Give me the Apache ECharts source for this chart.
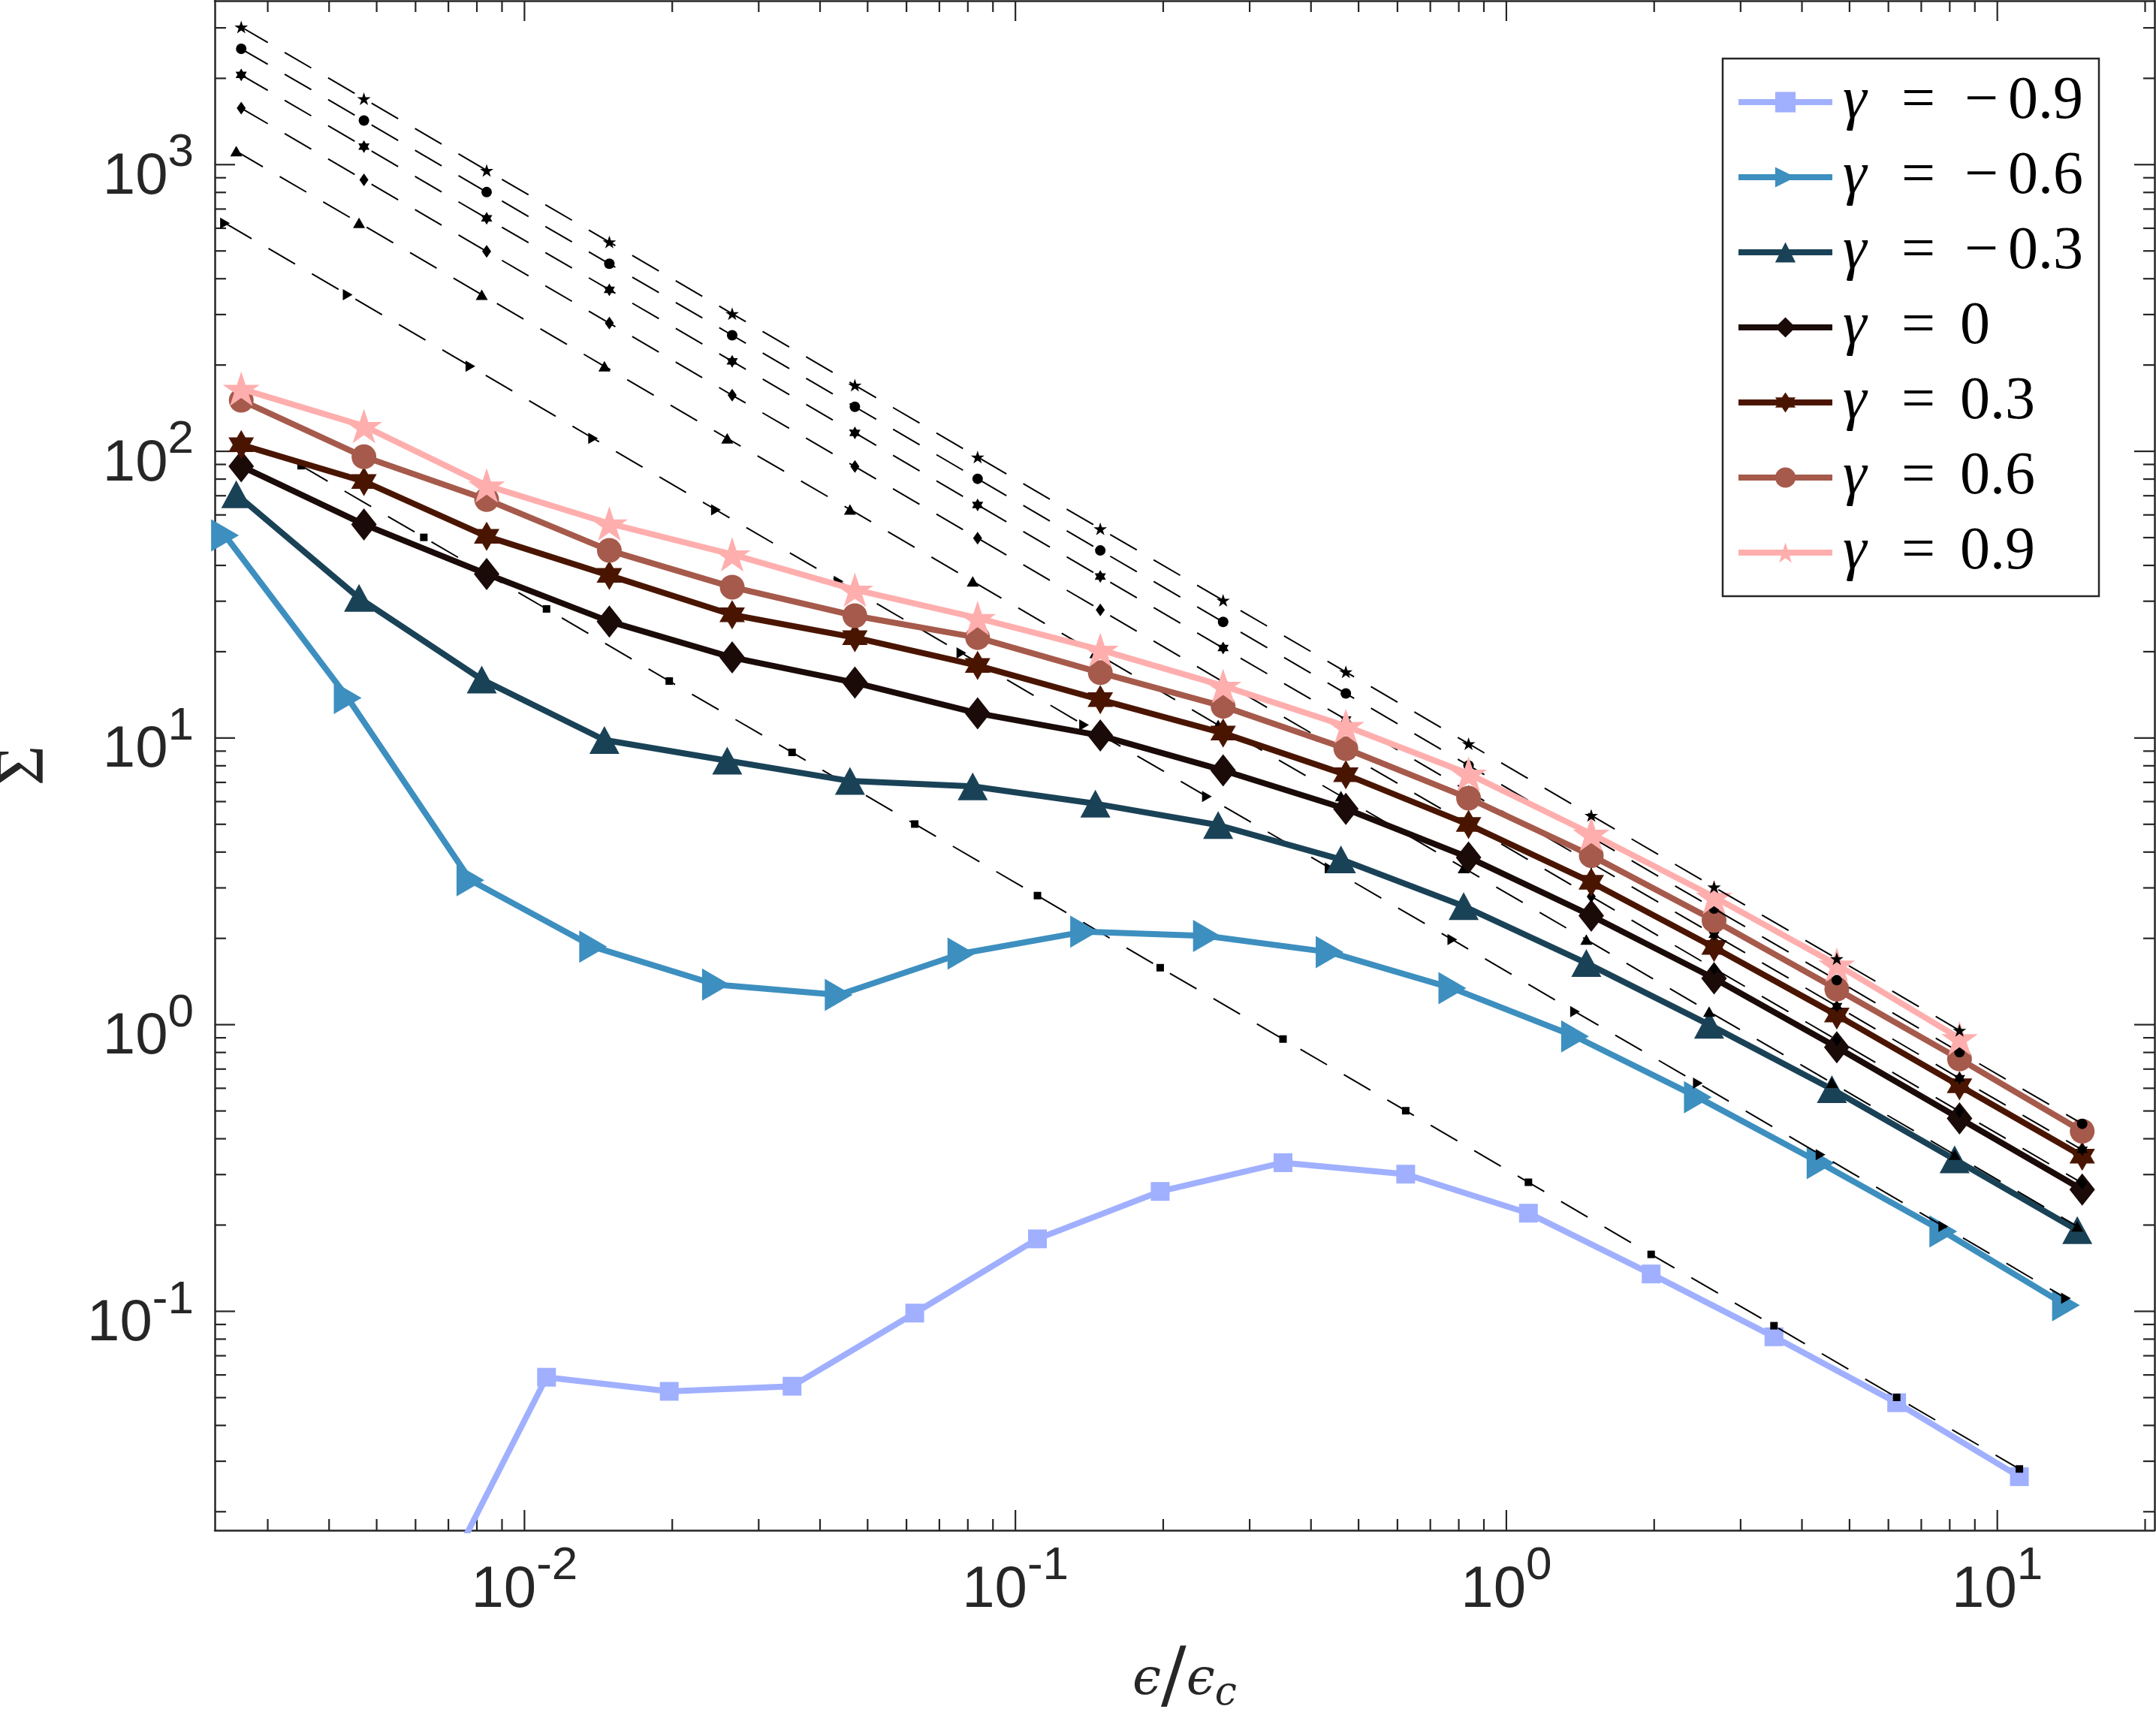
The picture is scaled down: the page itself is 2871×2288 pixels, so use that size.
<!DOCTYPE html>
<html>
<head>
<meta charset="utf-8">
<script src="https://cdn.jsdelivr.net/npm/echarts@6/dist/echarts.min.js"></script>
<style>
  html, body { margin: 0; padding: 0; background: #fff; }
  #chart { width: 2871px; height: 2288px; }
</style>
</head>
<body>
<div id="chart"></div>
<script>
// gamma values shown in the legend
const gammaLabels = ['−0.9', '−0.6', '−0.3', '0', '0.3', '0.6', '0.9'];
const colors = ['#A0B0FF', '#3D8FBF', '#1A4257', '#1A0B09', '#4A1500', '#A65A4B', '#FFAEAE'];

// x positions (eps/eps_c) of the markers, one grid per gamma
const xSq = [0.006237, 0.01109, 0.01972, 0.03508, 0.06237, 0.1109, 0.1972, 0.3508, 0.6237, 1.109, 1.972, 3.508, 6.237, 11.09];
const xSqFit = [0.003508, 0.006237, 0.01109, 0.01972, 0.03508, 0.06237, 0.1109, 0.1972, 0.3508, 0.6237, 1.109, 1.972, 3.508, 6.237, 11.09];
const xRt = [0.002455, 0.004365, 0.007762, 0.01380, 0.02455, 0.04365, 0.07762, 0.1380, 0.2455, 0.4365, 0.7762, 1.380, 2.455, 4.365, 7.762, 13.80];
const xTri = [0.002588, 0.004603, 0.008185, 0.01455, 0.02588, 0.04603, 0.08185, 0.1455, 0.2588, 0.4603, 0.8185, 1.455, 2.588, 4.603, 8.185, 14.55];
const xMain = [0.002649, 0.004710, 0.008375, 0.01489, 0.02649, 0.04710, 0.08375, 0.1489, 0.2649, 0.4710, 0.8375, 1.489, 2.649, 4.710, 8.375, 14.89];
const xStar = [0.002649, 0.004710, 0.008375, 0.01489, 0.02649, 0.04710, 0.08375, 0.1489, 0.2649, 0.4710, 0.8375, 1.489, 2.649, 4.710, 8.375];

// Sigma, measured curves
const ySq = [0.0085, 0.0589, 0.0526, 0.0548, 0.0986, 0.179, 0.262, 0.330, 0.301, 0.220, 0.135, 0.0815, 0.0480, 0.0265];
const yRt = [50.9, 13.8, 3.19, 1.87, 1.38, 1.27, 1.77, 2.11, 2.04, 1.79, 1.34, 0.910, 0.558, 0.329, 0.190, 0.105];
const yTri = [70.8, 30.8, 16.0, 9.84, 8.34, 7.08, 6.78, 5.90, 4.97, 3.77, 2.59, 1.64, 1.00, 0.596, 0.339, 0.192];
const yDia = [88.7, 55.6, 37.3, 25.5, 19.1, 15.6, 12.2, 10.2, 7.71, 5.66, 3.83, 2.40, 1.45, 0.834, 0.471, 0.266];
const yHex = [105.4, 78.5, 50.5, 36.9, 26.9, 22.4, 17.9, 13.6, 10.4, 7.45, 4.99, 3.14, 1.86, 1.08, 0.612, 0.348];
const yCir = [150.7, 95.7, 67.9, 45.1, 33.6, 26.7, 22.4, 16.9, 12.9, 9.18, 6.17, 3.89, 2.31, 1.33, 0.759, 0.425];
const yStar = [165.2, 122.5, 76.0, 56.0, 43.7, 32.9, 26.2, 20.3, 15.2, 11.0, 7.50, 4.63, 2.79, 1.62, 0.897];

// Sigma, dashed asymptotes
const fSq = [89.1, 50.1, 28.2, 15.8, 8.91, 5.01, 2.82, 1.58, 0.891, 0.501, 0.282, 0.158, 0.0891, 0.0501, 0.0282];
const fRt = [625, 352, 198, 111, 62.5, 35.2, 19.8, 11.1, 6.25, 3.52, 1.98, 1.11, 0.625, 0.352, 0.198, 0.111];
const fTri = [1114, 627, 352, 198, 111, 62.7, 35.2, 19.8, 11.1, 6.27, 3.52, 1.98, 1.11, 0.627, 0.352, 0.198];
const fDia = [1574, 885, 498, 280, 157, 88.5, 49.8, 28.0, 15.7, 8.85, 4.98, 2.80, 1.57, 0.885, 0.498, 0.280];
const fHex = [2056, 1156, 650, 366, 206, 116, 65.0, 36.6, 20.6, 11.6, 6.50, 3.66, 2.06, 1.16, 0.650, 0.366];
const fCir = [2535, 1426, 802, 451, 254, 143, 80.2, 45.1, 25.4, 14.3, 8.02, 4.51, 2.54, 1.43, 0.802, 0.451];
const fStar = [3020, 1698, 955, 537, 302, 170, 95.5, 53.7, 30.2, 17.0, 9.55, 5.37, 3.02, 1.70, 0.955];

// axes
const xMin = 0.00234, xMax = 20.9;
const yMin = 0.01723, yMax = 3730;
const xTickVals = [0.01, 0.1, 1, 10];
const xTickLabels = ['-2', '-1', '0', '1'];
const yTickVals = [0.1, 1, 10, 100, 1000];
const yTickLabels = ['-1', '0', '1', '2', '3'];
const decades = [0.001, 0.01, 0.1, 1, 10, 100, 1000];
const minorMult = [2, 3, 4, 5, 6, 7, 8, 9];

const STAR = 'path://M50,0 L61.23,34.55 L97.55,34.55 L68.17,55.9 L79.39,90.45 L50,69.1 L20.61,90.45 L31.83,55.9 L2.45,34.55 L38.77,34.55 Z';
const HEX = 'path://M50,0 L64.43,25 L93.3,25 L78.87,50 L93.3,75 L64.43,75 L50,100 L35.57,75 L6.7,75 L21.13,50 L6.7,25 L35.57,25 Z';

const xsList = [xSq, xRt, xTri, xMain, xMain, xMain, xStar];
const ysList = [ySq, yRt, yTri, yDia, yHex, yCir, yStar];
const xfList = [xSqFit, xRt, xTri, xMain, xMain, xMain, xStar];
const yfList = [fSq, fRt, fTri, fDia, fHex, fCir, fStar];
const symbols = ['rect', 'triangle', 'triangle', 'diamond', HEX, 'circle', STAR];
const rotations = [0, -90, 0, 0, 0, 0, 0];
const bigSizes = [25, [43, 37], [40, 37], [34, 43], [34, 39], 33, [49, 46]];
const smallSizes = [10, [15, 13], [16, 14], [12, 17], [15, 17], 14, [18, 17]];

const axisColor = '#262626';

function pairs(xs, ys) {
  return ys.map((y, i) => [xs[i], y]);
}

function ticksFor(majors, lo, hi) {
  const out = majors.map(v => [v, 27]);
  decades.forEach(d => minorMult.forEach(m => {
    const v = d * m;
    if (v > lo && v < hi) out.push([v, 15]);
  }));
  return out;
}

function powLabel(vals, labels) {
  return function (v) {
    const i = vals.findIndex(t => Math.abs(Math.log10(v / t)) < 1e-6);
    return i < 0 ? '' : '{b|10}{s|' + labels[i] + '}';
  };
}

// base and raised exponent, moved with padding
const labelRich = {
  b: { fontFamily: 'Liberation Sans', fontSize: 78, lineHeight: 64, padding: [34, 0, 0, 0], color: axisColor },
  s: { fontFamily: 'Liberation Sans', fontSize: 62, lineHeight: 50, padding: [0, 0, 30, 0], color: axisColor }
};

const series = [];
for (let i = 0; i < 7; i++) {
  series.push({
    name: 'γ = ' + gammaLabels[i],
    type: 'line',
    data: pairs(xsList[i], ysList[i]),
    symbol: symbols[i],
    symbolSize: bigSizes[i],
    symbolRotate: rotations[i],
    lineStyle: { color: colors[i], width: 8 },
    itemStyle: { color: colors[i] },
    z: 3 + 2 * i,
    emphasis: { disabled: true }
  });
  series.push({
    name: 'asymptote ' + gammaLabels[i],
    type: 'line',
    data: pairs(xfList[i], yfList[i]),
    symbol: symbols[i],
    symbolSize: smallSizes[i],
    symbolRotate: rotations[i],
    lineStyle: { color: '#000', width: 2, type: [41, 26] },
    itemStyle: { color: '#000' },
    z: 4 + 2 * i,
    emphasis: { disabled: true }
  });
}

// tick marks drawn inwards on all four sides, like the original
series.push({
  type: 'custom',
  name: 'xticks',
  silent: true,
  clip: false,
  z: 1,
  data: ticksFor(xTickVals, xMin, xMax).map(t => [t[0], yMin, t[1]]),
  encode: { x: 0, y: 1 },
  renderItem: function (params, api) {
    const cs = params.coordSys;
    const p = api.coord([api.value(0), yMin]);
    const len = api.value(2);
    const st = { stroke: axisColor, lineWidth: 2.2 };
    return {
      type: 'group',
      children: [
        { type: 'line', shape: { x1: p[0], y1: cs.y + cs.height, x2: p[0], y2: cs.y + cs.height - len }, style: st },
        { type: 'line', shape: { x1: p[0], y1: cs.y, x2: p[0], y2: cs.y + len }, style: st }
      ]
    };
  }
});
series.push({
  type: 'custom',
  name: 'yticks',
  silent: true,
  clip: false,
  z: 1,
  data: ticksFor(yTickVals, yMin, yMax).map(t => [xMin, t[0], t[1]]),
  encode: { x: 0, y: 1 },
  renderItem: function (params, api) {
    const cs = params.coordSys;
    const p = api.coord([xMin, api.value(1)]);
    const len = api.value(2);
    const st = { stroke: axisColor, lineWidth: 2.2 };
    return {
      type: 'group',
      children: [
        { type: 'line', shape: { x1: cs.x, y1: p[1], x2: cs.x + len, y2: p[1] }, style: st },
        { type: 'line', shape: { x1: cs.x + cs.width, y1: p[1], x2: cs.x + cs.width - len, y2: p[1] }, style: st }
      ]
    };
  }
});

const legendFont = { fontFamily: 'Liberation Serif', fontSize: 80, lineHeight: 80 };

const chart = echarts.init(document.getElementById('chart'));
chart.setOption({
  animation: false,
  backgroundColor: '#fff',
  grid: { left: 286, right: 2, top: 1, bottom: 250, outerBoundsMode: 'none', containLabel: false },
  xAxis: [{
    type: 'log', min: xMin, max: xMax, position: 'bottom',
    axisLine: { lineStyle: { color: axisColor, width: 2.5 } },
    axisTick: { show: false }, splitLine: { show: false },
    axisLabel: { formatter: powLabel(xTickVals, xTickLabels), margin: 31, rich: labelRich },
    name: '{e|ϵ}{sl|/}{e|ϵ}{c|c}', nameLocation: 'middle', nameGap: 150,
    nameTextStyle: {
      rich: {
        e: { fontFamily: 'DejaVu Serif', fontStyle: 'italic', fontSize: 68, lineHeight: 100, color: axisColor },
        sl: { fontFamily: 'DejaVu Serif', fontSize: 100, lineHeight: 100, color: axisColor },
        c: { fontFamily: 'DejaVu Serif', fontStyle: 'italic', fontSize: 52, lineHeight: 40, padding: [36, 0, 0, 0], color: axisColor }
      }
    }
  }, {
    type: 'log', min: xMin, max: xMax, position: 'top',
    axisLine: { lineStyle: { color: axisColor, width: 2.5 } },
    axisTick: { show: false }, axisLabel: { show: false }, splitLine: { show: false }
  }],
  yAxis: [{
    type: 'log', min: yMin, max: yMax, position: 'left',
    axisLine: { lineStyle: { color: axisColor, width: 2.5 } },
    axisTick: { show: false }, splitLine: { show: false },
    axisLabel: { formatter: powLabel(yTickVals, yTickLabels), margin: 28, rich: labelRich },
    name: 'Σ', nameLocation: 'middle', nameRotate: 90, nameGap: 207,
    nameTextStyle: { fontFamily: 'Liberation Serif', fontSize: 92, color: axisColor }
  }, {
    type: 'log', min: yMin, max: yMax, position: 'right',
    axisLine: { lineStyle: { color: axisColor, width: 2.5 } },
    axisTick: { show: false }, axisLabel: { show: false }, splitLine: { show: false }
  }],
  legend: {
    data: gammaLabels.map(g => 'γ = ' + g),
    orient: 'vertical',
    left: 2294, top: 78,
    itemWidth: 125, itemHeight: 34, itemGap: 20,
    padding: [18, 21, 18, 17],
    borderColor: axisColor, borderWidth: 2.5, backgroundColor: '#fff',
    selectedMode: false,
    lineStyle: { width: 8 },
    formatter: function (name) {
      const v = name.replace('γ = ', '');
      if (v.charAt(0) === '−') return '{g|γ}{e|=}{m|−}{n|' + v.slice(1) + '}';
      return '{g|γ}{e2|=}{n|' + v + '}';
    },
    textStyle: Object.assign({
      color: '#000', width: 320, padding: [0, 0, 0, 9],
      rich: {
        g: Object.assign({ fontStyle: 'italic', width: 78 }, legendFont),
        e: Object.assign({ width: 84 }, legendFont),
        e2: Object.assign({ width: 78 }, legendFont),
        m: Object.assign({ width: 58 }, legendFont),
        n: Object.assign({}, legendFont)
      }
    }, legendFont)
  },
  series: series
});
</script>
</body>
</html>
